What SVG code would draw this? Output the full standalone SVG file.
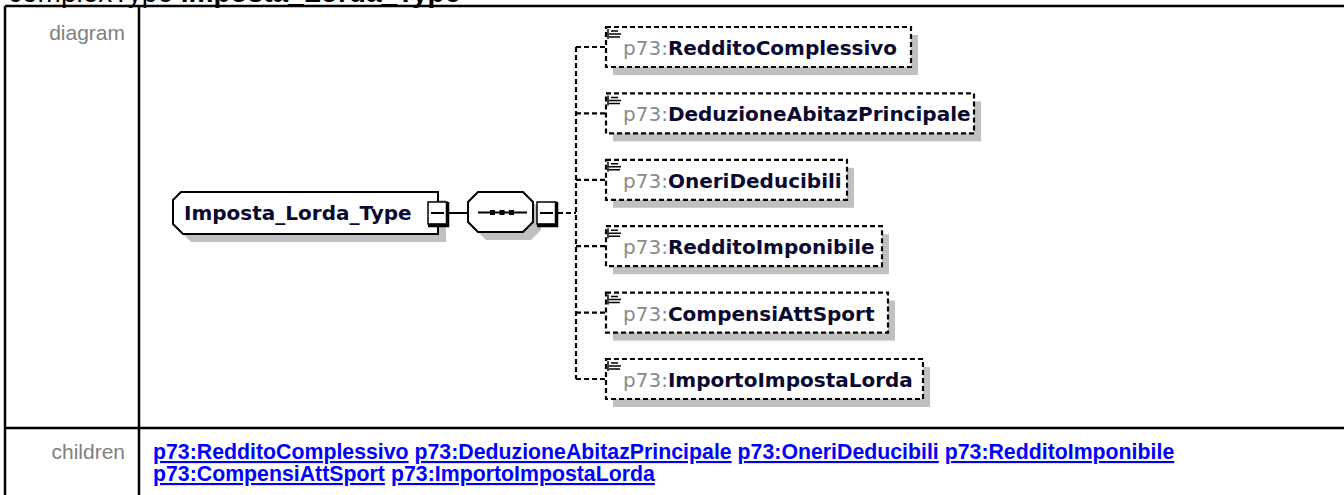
<svg xmlns="http://www.w3.org/2000/svg" width="1344" height="495" viewBox="0 0 1344 495">
<style>
.grid{stroke:#000;stroke-width:2.5;fill:none}
.lbl{font-family:"Liberation Sans",Arial,sans-serif;font-size:21px;fill:#808080;text-anchor:end}
.lnk{font-family:"Liberation Sans",Arial,sans-serif;font-size:21.3px;font-weight:bold;fill:#0000ff;text-decoration:underline}
.shadow{fill:#c0c0c0;stroke:none}
.box{fill:#fff;stroke:#000;stroke-width:2}
.opt{fill:#fff;stroke:#000;stroke-width:2.2;stroke-dasharray:5,3}
.dash{stroke:#000;stroke-width:2.2;stroke-dasharray:5,3;fill:none}
.solid{stroke:#000;stroke-width:2;fill:none}
.nm{font-family:"DejaVu Sans",Verdana,sans-serif;font-size:20px;font-weight:bold;fill:#0a0a30}
.ns{font-weight:normal;fill:#8a8a8a}
.icon{stroke:#000;stroke-width:1.5;fill:none}
.minus{fill:#fff;stroke:#000;stroke-width:1.5}
</style>
<defs>
<g id="minusBox">
<rect class="minus" x="0" y="0" width="19" height="22"/>
<path d="M19.5,0 V23.5 H0" stroke="#000" stroke-width="3.5" fill="none"/>
<path d="M3,11 H16" stroke="#000" stroke-width="2"/>
</g>
<path id="ico" class="icon" d="M5,3 H12 M3,6 H15 M3,9 H14 M2,1 V11"/>
</defs>

<g id="title">
<text x="8" y="2" font-family="'Liberation Sans',Arial,sans-serif" font-size="28" fill="#000">complexType <tspan font-weight="bold">Imposta_Lorda_Type</tspan></text>
</g>

<g id="table">
<path class="grid" d="M5,6 H1344 M5,6 V495 M139,6 V495 M5,428 H1344"/>
<text class="lbl" x="125" y="40">diagram</text>
<text class="lbl" x="125" y="459">children</text>
</g>

<g id="connectors">
<path class="solid" d="M449,213 H468"/>
<path class="dash" d="M558,213 H576 M576,47 V379"/>
<path class="dash" d="M576,47 H606 M576,113.4 H606 M576,179.8 H606 M576,246.2 H606 M576,312.6 H606 M576,379 H606"/>
</g>

<g id="Imposta_Lorda_Type">
<polygon class="shadow" points="189,200 446,200 446,242 191,242 181,232 181,208"/>
<polygon class="box" points="181,192 438,192 438,234 183,234 173,224 173,200"/>
<text class="nm" x="184" y="220">Imposta_Lorda_Type</text>
<use href="#minusBox" x="428" y="202"/>
</g>

<g id="sequence">
<polygon class="shadow" points="486,200 531,200 541,210 541,230 531,240 486,240 476,230 476,210"/>
<polygon class="box" points="478,192 523,192 533,202 533,222 523,232 478,232 468,222 468,202"/>
<path class="solid" d="M478,212.5 H527"/>
<rect x="490" y="210" width="5" height="5" fill="#000"/>
<rect x="499.5" y="210" width="5" height="5" fill="#000"/>
<rect x="509" y="210" width="5" height="5" fill="#000"/>
<use href="#minusBox" x="537" y="202"/>
</g>

<g id="RedditoComplessivo">
<rect class="shadow" x="613" y="35" width="305" height="40"/>
<rect class="opt" x="606" y="27" width="305" height="40"/>
<use href="#ico" x="606" y="28"/>
<text class="nm" x="623" y="55"><tspan class="ns">p73:</tspan>RedditoComplessivo</text>
</g>

<g id="DeduzioneAbitazPrincipale">
<rect class="shadow" x="613" y="101.4" width="368" height="40"/>
<rect class="opt" x="606" y="93.4" width="368" height="40"/>
<use href="#ico" x="606" y="94.4"/>
<text class="nm" x="623" y="121.4"><tspan class="ns">p73:</tspan>DeduzioneAbitazPrincipale</text>
</g>

<g id="OneriDeducibili">
<rect class="shadow" x="613" y="167.8" width="241" height="40"/>
<rect class="opt" x="606" y="159.8" width="241" height="40"/>
<use href="#ico" x="606" y="160.8"/>
<text class="nm" x="623" y="187.8"><tspan class="ns">p73:</tspan>OneriDeducibili</text>
</g>

<g id="RedditoImponibile">
<rect class="shadow" x="613" y="234.2" width="276" height="40"/>
<rect class="opt" x="606" y="226.2" width="276" height="40"/>
<use href="#ico" x="606" y="227.2"/>
<text class="nm" x="623" y="254.2"><tspan class="ns">p73:</tspan>RedditoImponibile</text>
</g>

<g id="CompensiAttSport">
<rect class="shadow" x="613" y="300.6" width="282" height="40"/>
<rect class="opt" x="606" y="292.6" width="282" height="40"/>
<use href="#ico" x="606" y="293.6"/>
<text class="nm" x="623" y="320.6"><tspan class="ns">p73:</tspan>CompensiAttSport</text>
</g>

<g id="ImportoImpostaLorda">
<rect class="shadow" x="613" y="367" width="317" height="40"/>
<rect class="opt" x="606" y="359" width="317" height="40"/>
<use href="#ico" x="606" y="360"/>
<text class="nm" x="623" y="387"><tspan class="ns">p73:</tspan>ImportoImpostaLorda</text>
</g>

<g id="children-links">
<text class="lnk" x="153" y="459">p73:RedditoComplessivo</text>
<text class="lnk" x="414.5" y="459">p73:DeduzioneAbitazPrincipale</text>
<text class="lnk" x="737.6" y="459">p73:OneriDeducibili</text>
<text class="lnk" x="944.7" y="459">p73:RedditoImponibile</text>
<text class="lnk" x="153" y="481">p73:CompensiAttSport</text>
<text class="lnk" x="391" y="481">p73:ImportoImpostaLorda</text>
</g>
</svg>
